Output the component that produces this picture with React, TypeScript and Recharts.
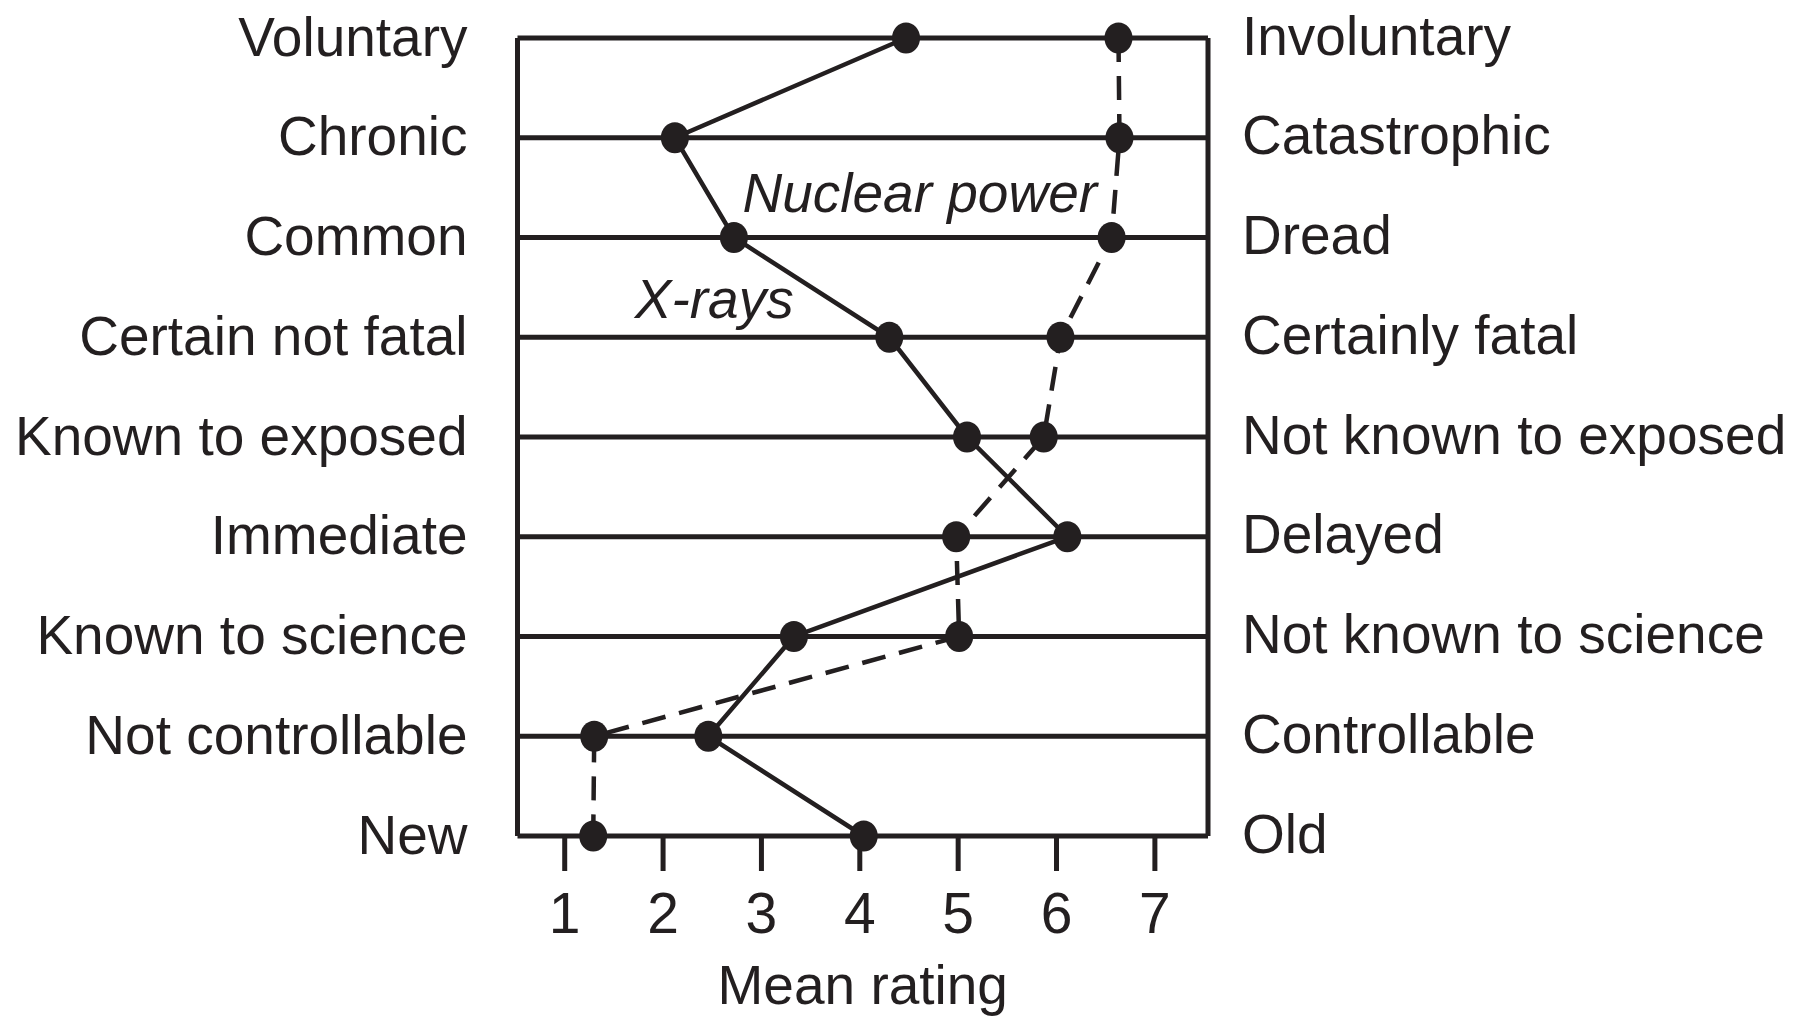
import React from 'react';
import { LineChart, Line, XAxis, YAxis, CartesianGrid, ReferenceDot } from 'recharts';

const leftLabels = [
  'Voluntary',
  'Chronic',
  'Common',
  'Certain not fatal',
  'Known to exposed',
  'Immediate',
  'Known to science',
  'Not controllable',
  'New',
];

const rightLabels = [
  'Involuntary',
  'Catastrophic',
  'Dread',
  'Certainly fatal',
  'Not known to exposed',
  'Delayed',
  'Not known to science',
  'Controllable',
  'Old',
];

const xrayRatings = [4.47, 2.12, 2.72, 4.3, 5.09, 6.11, 3.33, 2.46, 4.04];
const nuclearRatings = [6.63, 6.64, 6.56, 6.04, 5.87, 4.98, 5.01, 1.3, 1.29];

const ratingTicks = [1, 2, 3, 4, 5, 6, 7];
const rowTicks = [0, 1, 2, 3, 4, 5, 6, 7, 8];

// series annotations
const nuclearNote = { text: 'Nuclear power', rating: 4.61, row: 1.745 };
const xrayNote = { text: 'X-rays', rating: 2.52, row: 2.81 };

const data = leftLabels.map((_, i) => ({
  idx: i,
  xray: xrayRatings[i],
  nuclear: nuclearRatings[i],
}));

const INK = '#231f20';
const FONT = '"Liberation Sans", Arial, Helvetica, sans-serif';

const Dot = (props: any) => {
  const { cx, cy, index } = props;
  if (cx == null || cy == null) return <g key={index} />;
  return <ellipse key={index} cx={cx} cy={cy} rx={14} ry={15.5} fill={INK} />;
};

const noteShape = (text: string) => (p: any) => (
  <text
    x={p.cx}
    y={p.cy}
    textAnchor="middle"
    fontFamily={FONT}
    fontSize={55}
    fontStyle="italic"
    fill={INK}
  >
    {text}
  </text>
);

const App: React.FC = () => {
  return (
    <div style={{ position: 'absolute', left: 0, top: 0, width: 1797, height: 1016, background: '#fff' }}>
      <LineChart
        width={1797}
        height={1016}
        data={data}
        layout="vertical"
        margin={{ top: 38, right: 0, bottom: 0, left: 0 }}
      >
        <CartesianGrid
          yAxisId="left"
          vertical={false}
          stroke={INK}
          strokeWidth={5}
          strokeOpacity={1}
        />
        <XAxis
          type="number"
          domain={[0.52, 7.54]}
          ticks={ratingTicks}
          allowDataOverflow
          height={180}
          axisLine={false}
          tickSize={35}
          tickMargin={22}
          tickLine={{ stroke: INK, strokeWidth: 5 }}
          tick={{ fill: INK, fontSize: 57, fontFamily: FONT }}
          label={{
            value: 'Mean rating',
            position: 'insideBottom',
            offset: 12,
            fill: INK,
            fontSize: 55,
            fontFamily: FONT,
          }}
        />
        <YAxis
          yAxisId="left"
          type="number"
          dataKey="idx"
          domain={[0, 8]}
          ticks={rowTicks}
          interval={0}
          width={517.5}
          tickSize={0}
          tickMargin={50}
          tickLine={false}
          axisLine={{ stroke: INK, strokeWidth: 5 }}
          tickFormatter={(v: number) => leftLabels[v] ?? ''}
          tick={{ fill: INK, fontSize: 55, fontFamily: FONT, dy: -2 }}
        />
        <YAxis
          yAxisId="right"
          orientation="right"
          type="number"
          dataKey="idx"
          domain={[0, 8]}
          ticks={rowTicks}
          interval={0}
          width={589}
          tickSize={0}
          tickMargin={34}
          tickLine={false}
          axisLine={{ stroke: INK, strokeWidth: 5 }}
          tickFormatter={(v: number) => rightLabels[v] ?? ''}
          tick={{ fill: INK, fontSize: 55, fontFamily: FONT, textAnchor: 'start', dy: -3 }}
        />
        <Line
          yAxisId="left"
          dataKey="nuclear"
          type="linear"
          stroke={INK}
          strokeWidth={4.5}
          strokeDasharray="24 14"
          dot={Dot}
          activeDot={false}
          isAnimationActive={false}
        />
        <Line
          yAxisId="left"
          dataKey="xray"
          type="linear"
          stroke={INK}
          strokeWidth={4.5}
          dot={Dot}
          activeDot={false}
          isAnimationActive={false}
        />
        <ReferenceDot
          yAxisId="left"
          x={nuclearNote.rating}
          y={nuclearNote.row}
          r={1}
          shape={noteShape(nuclearNote.text)}
          ifOverflow="visible"
        />
        <ReferenceDot
          yAxisId="left"
          x={xrayNote.rating}
          y={xrayNote.row}
          r={1}
          shape={noteShape(xrayNote.text)}
          ifOverflow="visible"
        />
      </LineChart>
    </div>
  );
};

export default App;
